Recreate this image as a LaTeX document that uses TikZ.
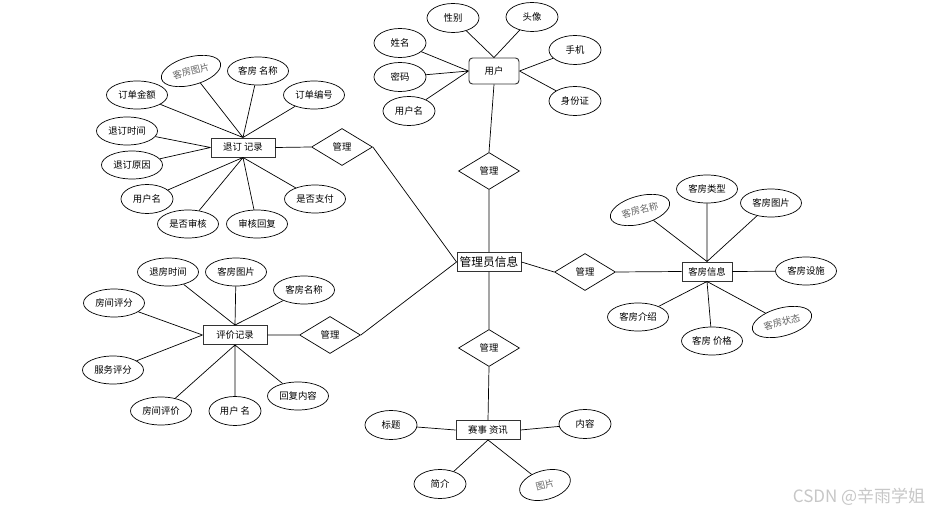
\documentclass[tikz,border=0pt]{standalone}
\usepackage{fontspec}
\setmainfont{Noto Sans CJK SC}
\usetikzlibrary{shapes.geometric}

\begin{document}
\begin{tikzpicture}[x=0.03cm, y=-0.03cm,
  attr/.style={draw, ellipse, line width=0.6pt, minimum width=1.56cm, minimum height=0.87cm, inner sep=0pt, font=\fontsize{8}{9}\selectfont},
  attrl/.style={attr, minimum width=1.83cm, minimum height=0.84cm},
  tilt/.style={attrl, rotate=15, text=black!60},
  entity/.style={draw=black!80, line width=0.8pt, minimum width=1.92cm, minimum height=0.57cm, inner sep=1pt, font=\fontsize{8}{9}\selectfont},
  rel/.style={draw, diamond, line width=0.6pt, minimum width=1.83cm, minimum height=1.11cm, inner sep=0pt, font=\fontsize{8}{9}\selectfont},
  link/.style={line width=0.6pt}]
  \useasboundingbox[fill=white] (0,0) rectangle (931,514);

  % centre and relations
  \node[entity, inner sep=2pt, font=\fontsize{10}{12}\selectfont] (admin) at (489,262) {管理员信息};
  \node[rel] (r1) at (489,171) {管理};
  \node[rel] (r2) at (585,272) {管理};
  \node[rel] (r3) at (489,348) {管理};
  \node[rel] (r4) at (342,147) {管理};
  \node[rel] (r5) at (330,335) {管理};

  % 用户
  \node[entity, rounded corners=3pt, minimum width=1.5cm, minimum height=0.78cm] (user) at (494,71) {用户};
  \node[attr] (u1) at (453,18) {性别};
  \node[attr] (u2) at (532,17) {头像};
  \node[attr] (u3) at (400,43) {姓名};
  \node[attr] (u4) at (400,77) {密码};
  \node[attr] (u5) at (409,111) {用户名};
  \node[attr] (u6) at (575,50) {手机};
  \node[attr] (u7) at (575,101) {身份证};
  \draw[link] (u1) -- (user.north) (u2) -- (user.north);
  \draw[link] (u3) -- (user.west) (u4) -- (user.west) (u5) -- (user.west);
  \draw[link] (u6) -- (user.east) (u7) -- (user.east);

  % 退订记录
  \node[entity] (cancel) at (243,147.5) {退订 记录};
  \node[tilt] (c1) at (191,71) {客房图片};
  \node[attrl] (c2) at (258,71) {客房 名称};
  \node[attrl] (c3) at (314,95) {订单编号};
  \node[attrl] (c4) at (137,95) {订单金额};
  \node[attrl] (c5) at (127,131) {退订时间};
  \node[attrl] (c6) at (132,165) {退订原因};
  \node[attr] (c7) at (147,199) {用户名};
  \node[attrl] (c8) at (188,224) {是否审核};
  \node[attrl] (c9) at (257,224) {审核回复};
  \node[attrl] (c10) at (315,199) {是否支付};
  \draw[link] (c1) -- (cancel.north) (c2) -- (cancel.north) (c3) -- (cancel.north) (c4) -- (cancel.north);
  \draw[link] (c5) -- (cancel.west) (c6) -- (cancel.west);
  \draw[link] (c7) -- (cancel.south) (c8) -- (cancel.south) (c9) -- (cancel.south) (c10) -- (cancel.south);

  % 评价记录
  \node[entity] (review) at (235,335) {评价记录};
  \node[attrl] (e1) at (168,272) {退房时间};
  \node[attrl] (e2) at (236,272) {客房图片};
  \node[attrl] (e3) at (304,290) {客房名称};
  \node[attrl] (e4) at (114,303) {房间评分};
  \node[attrl] (e5) at (113,370) {服务评分};
  \node[attrl] (e6) at (161,411) {房间评价};
  \node[attr] (e7) at (235,411) {用户 名};
  \node[attrl] (e8) at (298,396) {回复内容};
  \draw[link] (e1) -- (review.north) (e2) -- (review.north) (e3) -- (review.north);
  \draw[link] (e4) -- (review.west) (e5) -- (review.west);
  \draw[link] (e6) -- (review.south) (e7) -- (review.south) (e8) -- (review.south);

  % 客房信息
  \node[entity, minimum width=1.5cm] (room) at (707,271.5) {客房信息};
  \node[attrl] (h1) at (707,189) {客房类型};
  \node[attrl] (h2) at (771,203) {客房图片};
  \node[tilt] (h3) at (640,210) {客房名称};
  \node[attrl] (h4) at (806,271) {客房设施};
  \node[attrl] (h5) at (638,317) {客房介绍};
  \node[attrl] (h6) at (712,341) {客房 价格};
  \node[tilt] (h7) at (782,322) {客房状态};
  \draw[link] (h1) -- (room.north) (h2) -- (room.north) (h3) -- (room.north);
  \draw[link] (h4) -- (room.east);
  \draw[link] (h5) -- (room.south) (h6) -- (room.south) (h7) -- (room.south);

  % 赛事资讯
  \node[entity] (news) at (488,430) {赛事 资讯};
  \node[attr] (n1) at (391,425) {标题};
  \node[attr] (n2) at (585,424) {内容};
  \node[attr] (n3) at (440,484) {简介};
  \node[attr, rotate=15, text=black!60] (n4) at (545,485) {图片};
  \draw[link] (n1) -- (news.west) (n2) -- (news.east);
  \draw[link] (n3) -- (news.south) (n4) -- (news.south);

  % relations to entities
  \draw[link] (admin) -- (r1) (r1.north) -- (user.south);
  \draw[link] (admin.east) -- (r2.west) (r2.east) -- (room.west);
  \draw[link] (admin) -- (r3) (r3.south) -- (news.north);
  \draw[link] (cancel.east) -- (r4.west) (r4.east) -- (admin.west);
  \draw[link] (review.east) -- (r5.west) (r5.east) -- (admin.west);

  \node[text=black!22, font=\fontsize{14.5}{16}\selectfont] (wm) at (859,497) {CSDN @辛雨学姐};
\end{tikzpicture}
\end{document}
